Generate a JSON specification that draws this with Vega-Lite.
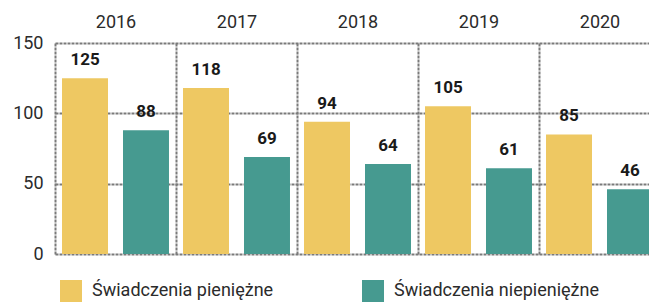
{
  "$schema": "https://vega.github.io/schema/vega-lite/v6.json",
  "autosize": {"type": "none"},
  "width": 594,
  "height": 211,
  "padding": {"left": 55, "top": 43, "right": 0, "bottom": 48},
  "background": "white",
  "data": {"values": [
    {"rok": "2016", "rodzaj": "Świadczenia pieniężne", "wartosc": 125},
    {"rok": "2016", "rodzaj": "Świadczenia niepieniężne", "wartosc": 88},
    {"rok": "2017", "rodzaj": "Świadczenia pieniężne", "wartosc": 118},
    {"rok": "2017", "rodzaj": "Świadczenia niepieniężne", "wartosc": 69},
    {"rok": "2018", "rodzaj": "Świadczenia pieniężne", "wartosc": 94},
    {"rok": "2018", "rodzaj": "Świadczenia niepieniężne", "wartosc": 64},
    {"rok": "2019", "rodzaj": "Świadczenia pieniężne", "wartosc": 105},
    {"rok": "2019", "rodzaj": "Świadczenia niepieniężne", "wartosc": 61},
    {"rok": "2020", "rodzaj": "Świadczenia pieniężne", "wartosc": 85},
    {"rok": "2020", "rodzaj": "Świadczenia niepieniężne", "wartosc": 46}
  ]},
  "encoding": {
    "x": {"field": "rok", "type": "nominal",
      "scale": {"range": [0, 605], "paddingInner": 0, "paddingOuter": 0},
      "axis": {"orient": "top", "title": null, "labelAngle": 0, "domain": false, "ticks": false,
        "grid": true, "tickBand": "extent", "gridColor": "#7a7a7a", "gridDash": [3, 1], "gridWidth": 2,
        "labelFont": "Roboto", "labelFontSize": 18, "labelColor": "#2b2b2b", "labelPadding": 12}},
    "xOffset": {"field": "rodzaj", "type": "nominal",
      "sort": ["Świadczenia pieniężne", "Świadczenia niepieniężne"],
      "scale": {"paddingInner": 0.246, "paddingOuter": 0.115}},
    "y": {"field": "wartosc", "type": "quantitative",
      "scale": {"domain": [0, 150], "nice": false},
      "axis": {"title": null, "values": [0, 50, 100, 150], "domain": false, "ticks": false,
        "gridColor": "#7a7a7a", "gridDash": [3, 1], "gridWidth": 2,
        "labelFont": "Roboto", "labelFontSize": 18, "labelColor": "#2b2b2b", "labelPadding": 12}}
  },
  "layer": [
    {
      "mark": {"type": "bar", "clip": true},
      "encoding": {
        "color": {"field": "rodzaj", "type": "nominal",
          "sort": ["Świadczenia pieniężne", "Świadczenia niepieniężne"],
          "scale": {"domain": ["Świadczenia pieniężne", "Świadczenia niepieniężne"], "range": ["#EEC862", "#469A90"]},
          "legend": {"orient": "none", "legendX": 5, "legendY": 237, "direction": "horizontal", "title": null,
            "symbolType": "square", "symbolSize": 484, "symbolStrokeWidth": 0, "symbolOpacity": 1,
            "labelFont": "Roboto", "labelFontSize": 18, "labelColor": "#2b2b2b", "labelOffset": 10, "labelLimit": 400,
            "columnPadding": 88}}
      }
    },
    {
      "mark": {"type": "text", "baseline": "bottom", "dy": -9, "font": "Roboto", "fontWeight": "bold", "fontSize": 17, "color": "#1a1a1a"},
      "encoding": {"text": {"field": "wartosc", "type": "quantitative"}}
    }
  ],
  "config": {"view": {"stroke": null}}
}
